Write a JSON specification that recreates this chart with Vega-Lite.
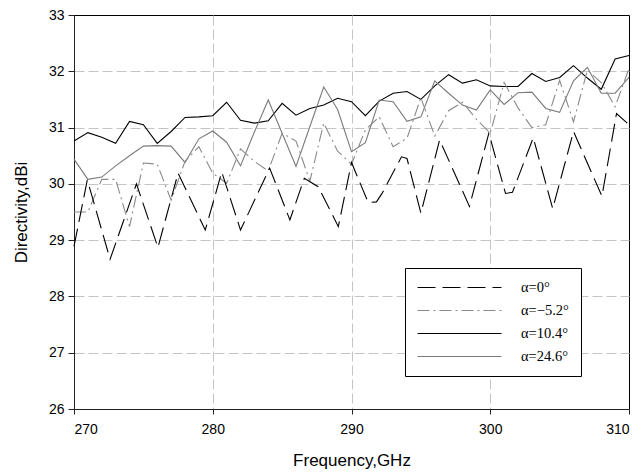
{
  "$schema": "https://vega.github.io/schema/vega-lite/v6.json",
  "width": 555,
  "height": 394,
  "autosize": {"type": "none"},
  "padding": {"left": 74, "top": 15, "right": 15, "bottom": 67},
  "background": "white",
  "config": {
    "view": {"stroke": "black", "strokeWidth": 1},
    "font": "Liberation Sans",
    "axis": {
      "grid": true,
      "gridColor": "#c4c4c4",
      "gridDash": [10, 4],
      "gridWidth": 1,
      "domainColor": "#222222",
      "tickColor": "#222222",
      "labelColor": "black",
      "labelFontSize": 14,
      "titleColor": "black",
      "titleFontSize": 17,
      "titleFontWeight": "normal"
    },
    "legend": {
      "orient": "none",
      "legendX": 331,
      "legendY": 253,
      "strokeColor": "black",
      "fillColor": "white",
      "padding": 12,
      "symbolSize": 7056,
      "symbolStrokeWidth": 1,
      "symbolOpacity": 1,
      "clipHeight": 15,
      "rowPadding": 7,
      "labelFont": "Liberation Serif",
      "labelFontSize": 14.5,
      "labelColor": "black",
      "labelOffset": 19
    }
  },
  "data": {
    "values": [
      {"f": 270, "d": 30.76, "s": "α=10.4°"}, {"f": 271, "d": 30.91, "s": "α=10.4°"}, {"f": 272, "d": 30.83, "s": "α=10.4°"}, {"f": 273, "d": 30.72, "s": "α=10.4°"}, {"f": 274, "d": 31.11, "s": "α=10.4°"}, {"f": 275, "d": 31.05, "s": "α=10.4°"}, {"f": 276, "d": 30.72, "s": "α=10.4°"}, {"f": 277, "d": 30.93, "s": "α=10.4°"}, {"f": 278, "d": 31.18, "s": "α=10.4°"}, {"f": 279, "d": 31.19, "s": "α=10.4°"}, {"f": 280, "d": 31.21, "s": "α=10.4°"},
      {"f": 281, "d": 31.45, "s": "α=10.4°"}, {"f": 282, "d": 31.13, "s": "α=10.4°"}, {"f": 283, "d": 31.08, "s": "α=10.4°"}, {"f": 284, "d": 31.12, "s": "α=10.4°"}, {"f": 285, "d": 31.43, "s": "α=10.4°"}, {"f": 286, "d": 31.22, "s": "α=10.4°"}, {"f": 287, "d": 31.34, "s": "α=10.4°"}, {"f": 288, "d": 31.40, "s": "α=10.4°"}, {"f": 289, "d": 31.52, "s": "α=10.4°"}, {"f": 290, "d": 31.46, "s": "α=10.4°"},
      {"f": 291, "d": 31.21, "s": "α=10.4°"}, {"f": 292, "d": 31.47, "s": "α=10.4°"}, {"f": 293, "d": 31.61, "s": "α=10.4°"}, {"f": 294, "d": 31.64, "s": "α=10.4°"}, {"f": 295, "d": 31.50, "s": "α=10.4°"}, {"f": 296, "d": 31.74, "s": "α=10.4°"}, {"f": 297, "d": 31.94, "s": "α=10.4°"}, {"f": 298, "d": 31.79, "s": "α=10.4°"}, {"f": 299, "d": 31.85, "s": "α=10.4°"}, {"f": 300, "d": 31.74, "s": "α=10.4°"},
      {"f": 301, "d": 31.73, "s": "α=10.4°"}, {"f": 302, "d": 31.73, "s": "α=10.4°"}, {"f": 303, "d": 31.96, "s": "α=10.4°"}, {"f": 304, "d": 31.82, "s": "α=10.4°"}, {"f": 305, "d": 31.89, "s": "α=10.4°"}, {"f": 306, "d": 32.10, "s": "α=10.4°"}, {"f": 307, "d": 31.88, "s": "α=10.4°"}, {"f": 308, "d": 31.68, "s": "α=10.4°"}, {"f": 309, "d": 32.22, "s": "α=10.4°"}, {"f": 310, "d": 32.28, "s": "α=10.4°"},

      {"f": 270, "d": 30.44, "s": "α=24.6°"}, {"f": 271, "d": 30.08, "s": "α=24.6°"}, {"f": 272, "d": 30.12, "s": "α=24.6°"}, {"f": 273, "d": 30.32, "s": "α=24.6°"}, {"f": 274, "d": 30.50, "s": "α=24.6°"}, {"f": 275, "d": 30.67, "s": "α=24.6°"}, {"f": 276, "d": 30.68, "s": "α=24.6°"}, {"f": 277, "d": 30.67, "s": "α=24.6°"}, {"f": 278, "d": 30.38, "s": "α=24.6°"}, {"f": 279, "d": 30.80, "s": "α=24.6°"}, {"f": 280, "d": 30.94, "s": "α=24.6°"},
      {"f": 281, "d": 30.74, "s": "α=24.6°"}, {"f": 282, "d": 30.32, "s": "α=24.6°"}, {"f": 283, "d": 30.92, "s": "α=24.6°"}, {"f": 284, "d": 31.49, "s": "α=24.6°"}, {"f": 285, "d": 30.90, "s": "α=24.6°"}, {"f": 286, "d": 30.31, "s": "α=24.6°"}, {"f": 287, "d": 31.02, "s": "α=24.6°"}, {"f": 288, "d": 31.72, "s": "α=24.6°"}, {"f": 289, "d": 31.32, "s": "α=24.6°"}, {"f": 290, "d": 30.57, "s": "α=24.6°"},
      {"f": 291, "d": 30.73, "s": "α=24.6°"}, {"f": 292, "d": 31.49, "s": "α=24.6°"}, {"f": 293, "d": 31.46, "s": "α=24.6°"}, {"f": 294, "d": 31.11, "s": "α=24.6°"}, {"f": 295, "d": 31.19, "s": "α=24.6°"}, {"f": 296, "d": 31.83, "s": "α=24.6°"}, {"f": 297, "d": 31.61, "s": "α=24.6°"}, {"f": 298, "d": 31.40, "s": "α=24.6°"}, {"f": 299, "d": 31.31, "s": "α=24.6°"}, {"f": 300, "d": 31.67, "s": "α=24.6°"},
      {"f": 301, "d": 31.41, "s": "α=24.6°"}, {"f": 302, "d": 31.62, "s": "α=24.6°"}, {"f": 303, "d": 31.63, "s": "α=24.6°"}, {"f": 304, "d": 31.34, "s": "α=24.6°"}, {"f": 305, "d": 31.27, "s": "α=24.6°"}, {"f": 306, "d": 31.83, "s": "α=24.6°"}, {"f": 307, "d": 32.07, "s": "α=24.6°"}, {"f": 308, "d": 31.61, "s": "α=24.6°"}, {"f": 309, "d": 31.61, "s": "α=24.6°"}, {"f": 310, "d": 31.89, "s": "α=24.6°"},

      {"f": 270, "d": 29.50, "s": "α=−5.2°"}, {"f": 271, "d": 29.50, "s": "α=−5.2°"}, {"f": 272, "d": 30.08, "s": "α=−5.2°"}, {"f": 273, "d": 30.08, "s": "α=−5.2°"}, {"f": 274, "d": 29.24, "s": "α=−5.2°"}, {"f": 275, "d": 30.37, "s": "α=−5.2°"}, {"f": 276, "d": 30.35, "s": "α=−5.2°"}, {"f": 277, "d": 29.71, "s": "α=−5.2°"}, {"f": 278, "d": 30.40, "s": "α=−5.2°"}, {"f": 279, "d": 30.66, "s": "α=−5.2°"}, {"f": 280, "d": 30.19, "s": "α=−5.2°"},
      {"f": 281, "d": 30.01, "s": "α=−5.2°"}, {"f": 282, "d": 30.62, "s": "α=−5.2°"}, {"f": 283, "d": 30.40, "s": "α=−5.2°"}, {"f": 284, "d": 30.23, "s": "α=−5.2°"}, {"f": 285, "d": 30.90, "s": "α=−5.2°"}, {"f": 286, "d": 30.76, "s": "α=−5.2°"}, {"f": 287, "d": 30.05, "s": "α=−5.2°"}, {"f": 288, "d": 31.08, "s": "α=−5.2°"}, {"f": 289, "d": 30.58, "s": "α=−5.2°"}, {"f": 290, "d": 30.35, "s": "α=−5.2°"},
      {"f": 291, "d": 30.96, "s": "α=−5.2°"}, {"f": 292, "d": 31.19, "s": "α=−5.2°"}, {"f": 293, "d": 30.66, "s": "α=−5.2°"}, {"f": 294, "d": 30.81, "s": "α=−5.2°"}, {"f": 295, "d": 31.53, "s": "α=−5.2°"}, {"f": 296, "d": 30.85, "s": "α=−5.2°"}, {"f": 297, "d": 31.30, "s": "α=−5.2°"}, {"f": 298, "d": 31.45, "s": "α=−5.2°"}, {"f": 299, "d": 31.15, "s": "α=−5.2°"}, {"f": 300, "d": 30.90, "s": "α=−5.2°"},
      {"f": 301, "d": 31.80, "s": "α=−5.2°"}, {"f": 302, "d": 31.35, "s": "α=−5.2°"}, {"f": 303, "d": 31.00, "s": "α=−5.2°"}, {"f": 304, "d": 31.05, "s": "α=−5.2°"}, {"f": 305, "d": 31.84, "s": "α=−5.2°"}, {"f": 306, "d": 31.10, "s": "α=−5.2°"}, {"f": 307, "d": 32.02, "s": "α=−5.2°"}, {"f": 308, "d": 31.80, "s": "α=−5.2°"}, {"f": 309, "d": 31.37, "s": "α=−5.2°"}, {"f": 310, "d": 32.05, "s": "α=−5.2°"},

      {"f": 270, "d": 28.89, "s": "α=0°"}, {"f": 270.96, "d": 30.07, "s": "α=0°"}, {"f": 272.6, "d": 28.66, "s": "α=0°"}, {"f": 274.5, "d": 30.0, "s": "α=0°"}, {"f": 276.05, "d": 28.87, "s": "α=0°"}, {"f": 277.5, "d": 30.19, "s": "α=0°"}, {"f": 279.46, "d": 29.18, "s": "α=0°"}, {"f": 280.65, "d": 30.21, "s": "α=0°"}, {"f": 282.0, "d": 29.18, "s": "α=0°"}, {"f": 284.1, "d": 30.28, "s": "α=0°"},
      {"f": 285.56, "d": 29.36, "s": "α=0°"}, {"f": 286.6, "d": 30.10, "s": "α=0°"}, {"f": 287.6, "d": 29.95, "s": "α=0°"}, {"f": 289.05, "d": 29.24, "s": "α=0°"}, {"f": 290.0, "d": 30.38, "s": "α=0°"}, {"f": 291.2, "d": 29.67, "s": "α=0°"}, {"f": 291.8, "d": 29.68, "s": "α=0°"}, {"f": 292.2, "d": 29.83, "s": "α=0°"}, {"f": 293.6, "d": 30.48, "s": "α=0°"}, {"f": 294.0, "d": 30.45, "s": "α=0°"},
      {"f": 295.0, "d": 29.48, "s": "α=0°"}, {"f": 296.35, "d": 30.78, "s": "α=0°"}, {"f": 298.5, "d": 29.6, "s": "α=0°"}, {"f": 299.9, "d": 30.9, "s": "α=0°"}, {"f": 301.1, "d": 29.83, "s": "α=0°"}, {"f": 301.6, "d": 29.85, "s": "α=0°"}, {"f": 303.1, "d": 30.82, "s": "α=0°"}, {"f": 304.5, "d": 29.56, "s": "α=0°"}, {"f": 306.0, "d": 30.93, "s": "α=0°"}, {"f": 308.05, "d": 29.78, "s": "α=0°"},
      {"f": 309.1, "d": 31.25, "s": "α=0°"}, {"f": 310, "d": 31.05, "s": "α=0°"}
    ]
  },
  "mark": {"type": "line", "strokeWidth": 1.1},
  "encoding": {
    "x": {
      "field": "f",
      "type": "quantitative",
      "scale": {"domain": [270, 310], "nice": false, "zero": false},
      "axis": {
        "values": [270, 280, 290, 300, 310],
        "title": "Frequency,GHz",
        "tickSize": 5,
        "labelPadding": 8,
        "titlePadding": 16,
        "gridOpacity": {"condition": {"test": "datum.value == 270 || datum.value == 310", "value": 0}, "value": 1}
      }
    },
    "y": {
      "field": "d",
      "type": "quantitative",
      "scale": {"domain": [26, 33], "nice": false, "zero": false},
      "axis": {
        "values": [26, 27, 28, 29, 30, 31, 32, 33],
        "title": "Directivity,dBi",
        "tickSize": 6,
        "labelPadding": 4,
        "titlePadding": 18,
        "gridOpacity": {"condition": {"test": "datum.value == 26 || datum.value == 33", "value": 0}, "value": 1}
      }
    },
    "color": {
      "field": "s",
      "type": "nominal",
      "scale": {"domain": ["α=0°", "α=−5.2°", "α=10.4°", "α=24.6°"], "range": ["black", "#8a8a8a", "black", "#7a7a7a"]},
      "legend": {"title": null}
    },
    "strokeDash": {
      "field": "s",
      "type": "nominal",
      "scale": {"domain": ["α=0°", "α=−5.2°", "α=10.4°", "α=24.6°"], "range": [[18, 7], [12, 4, 2, 4], [1000, 0], [1000, 0]]},
      "legend": {"title": null}
    }
  }
}
